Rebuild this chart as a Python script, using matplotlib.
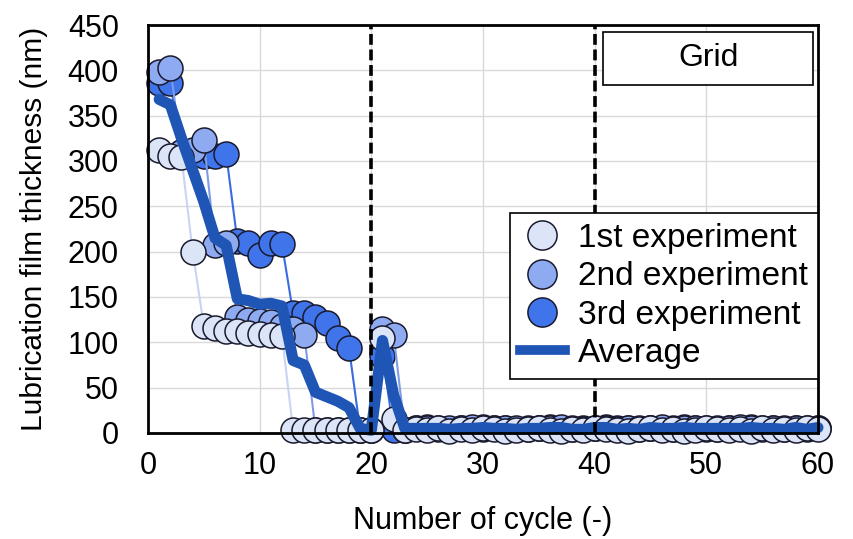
import matplotlib.pyplot as plt
from matplotlib.lines import Line2D
from matplotlib.patches import Rectangle

plt.rcParams['font.family'] = ['Liberation Sans', 'DejaVu Sans']

# cycle number 1..60
cycles = list(range(1, 61))

exp1 = [312, 305, 304, 200, 118, 116, 113, 112, 110, 109, 108, 107,
        3, 3, 3, 3, 3, 3, 3, 3, 105, 15, 3,
        4, 3, 5, 2, 4, 3, 5, 4, 2, 3, 4, 5, 3, 2, 4, 3, 5, 4, 3, 2,
        4, 5, 3, 4, 2, 3, 5, 4, 3, 4, 2, 5, 3, 4, 3, 5, 4]
exp2 = [398, 403, 310, 312, 323, 207, 210, 128, 125, 123, 122, 118, 115, 108,
        3, 3, 3, 3, 3, 3, 115, 108, 3,
        6, 5, 4, 6, 5, 7, 4, 5, 6, 5, 4, 6, 5, 7, 5, 4, 6, 5, 4, 6,
        5, 5, 7, 4, 6, 5, 4, 6, 5, 7, 5, 4, 6, 5, 6, 4, 5]
exp3 = [386, 386, 310, 308, 305, 305, 308, 212, 210, 196, 210, 208,
        132, 132, 128, 121, 105, 94, 3, 3, 85, 3, 3,
        5, 7, 6, 4, 6, 5, 7, 6, 5, 4, 6, 5, 7, 6, 4, 5, 6, 7, 5, 6,
        4, 6, 5, 6, 7, 5, 6, 4, 6, 5, 7, 6, 5, 4, 6, 5, 6]
average = [368, 362, 325, 290, 255, 215, 207, 148, 146, 142, 143, 140,
           80, 75, 45, 40, 35, 28, 5, 3, 102, 42, 5,
           5, 5, 5, 4, 5, 5, 6, 5, 5, 4, 5, 5, 6, 6, 4, 4, 6, 6, 4, 5,
           4, 6, 5, 5, 6, 5, 5, 5, 5, 5, 6, 5, 5, 4, 6, 4, 6]

series_labels = ['1st experiment', '2nd experiment', '3rd experiment']
face_colors = ['#dce4f7', '#8eaaf0', '#3f74ea']
line_colors = ['#c8d4f2', '#7d9be6', '#3a6be0']
avg_color = '#1f56b5'

fig = plt.figure(figsize=(8.54, 5.39), dpi=100)
ax = fig.add_axes([0.1733, 0.1967, 0.7845, 0.7569])

# draw 3rd first so 1st sits on top, like the original
for data, fc, lc in reversed(list(zip([exp1, exp2, exp3], face_colors, line_colors))):
    ax.plot(cycles, data, color=lc, linewidth=1.5, zorder=3, clip_on=False)
    ax.plot(cycles, data, linestyle='none', marker='o', markersize=18,
            markerfacecolor=fc, markeredgecolor='#1a1a2e', markeredgewidth=1.1,
            zorder=3, clip_on=False)

ax.plot(cycles, average, color=avg_color, linewidth=8, zorder=4,
        solid_joinstyle='round', solid_capstyle='round', clip_on=False)

for xv in [20, 40]:
    ax.axvline(xv, color='black', linestyle=(0, (3, 1.3)), linewidth=2.6, zorder=5)

ax.set_xlim(0, 60)
ax.set_ylim(0, 450)
ax.set_xticks(range(0, 61, 10))
ax.set_yticks(range(0, 451, 50))
ax.grid(True, color='#d9d9d9', linewidth=1)
ax.set_axisbelow(True)
ax.tick_params(length=0, labelsize=22)
ax.tick_params(axis='y', pad=21)
ax.tick_params(axis='x', pad=13)
for s in ax.spines.values():
    s.set_linewidth(2)
    s.set_color('black')
    s.set_zorder(6)

ax.set_xlabel('Number of cycle (-)', fontsize=22, labelpad=18)
ax.set_ylabel('Lubrication film thickness (nm)', fontsize=21.5, labelpad=14)

# "Grid" box
ax.add_patch(Rectangle((0.679, 0.853), 0.3135, 0.13, transform=ax.transAxes,
                       facecolor='white', edgecolor='black', linewidth=1.2, zorder=7))
ax.text(0.836, 0.918, 'Grid', transform=ax.transAxes, fontsize=23,
        ha='center', va='center', zorder=8)

handles = [Line2D([], [], linestyle='none', marker='o', markersize=21,
                  markerfacecolor=fc, markeredgecolor='#1a1a2e', markeredgewidth=1.1)
           for fc in face_colors]
handles.append(Line2D([], [], color=avg_color, linewidth=7))
leg = ax.legend(handles, series_labels + ['Average'], loc='upper right',
                bbox_to_anchor=(1.0, 0.539), borderaxespad=0, fontsize=24,
                fancybox=False, edgecolor='black', framealpha=1,
                handlelength=1.35, handletextpad=0.4, labelspacing=0.22,
                borderpad=0.3)
leg.get_frame().set_linewidth(1.2)
leg.set_zorder(7)

fig.savefig('out.png', dpi=100)
